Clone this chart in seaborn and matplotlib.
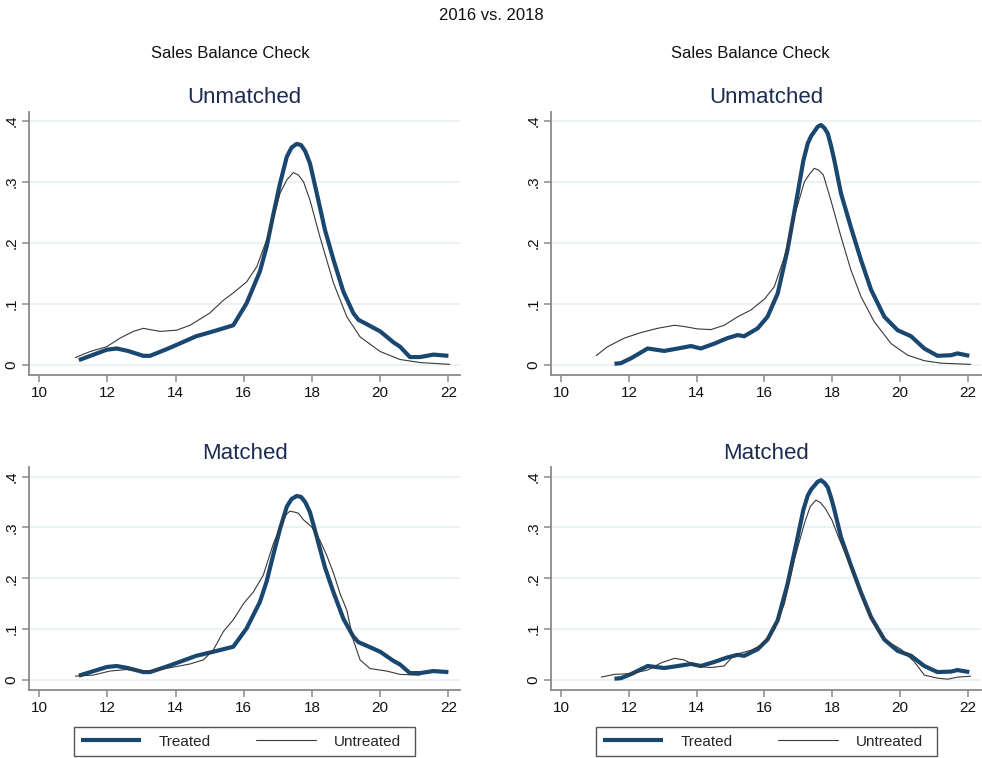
import matplotlib
matplotlib.use("Agg")
import matplotlib.pyplot as plt
from matplotlib.lines import Line2D
from matplotlib.patches import Rectangle
import seaborn as sns

# ---------------- data ----------------
treated16_x = [11.16, 11.5, 11.98, 12.27, 12.6, 13.05, 13.25, 13.74, 14.03, 14.6, 15.1, 15.69,
               16.08, 16.47, 16.67, 16.87, 17.06, 17.26, 17.4, 17.55, 17.68, 17.8, 17.94, 18.14,
               18.38, 18.63, 18.92, 19.21, 19.36, 19.6, 20.0, 20.39, 20.58, 20.87, 21.17, 21.56, 22.0]
treated16_y = [0.008, 0.015, 0.025, 0.027, 0.023, 0.015, 0.015, 0.026, 0.033, 0.047, 0.055, 0.065,
               0.101, 0.153, 0.194, 0.248, 0.297, 0.341, 0.356, 0.362, 0.360, 0.350, 0.330, 0.281,
               0.221, 0.172, 0.120, 0.085, 0.074, 0.067, 0.055, 0.037, 0.030, 0.013, 0.013, 0.017, 0.015]

untr16_unm_x = [11.05, 11.49, 11.98, 12.37, 12.76, 13.05, 13.54, 14.03, 14.42, 15.0, 15.4, 15.69,
                16.08, 16.38, 16.67, 16.96, 17.06, 17.26, 17.45, 17.6, 17.75, 17.94, 18.23, 18.63,
                19.02, 19.41, 20.0, 20.58, 21.17, 22.05]
untr16_unm_y = [0.012, 0.022, 0.030, 0.044, 0.055, 0.060, 0.055, 0.057, 0.065, 0.085, 0.106, 0.118,
                0.136, 0.161, 0.205, 0.259, 0.281, 0.303, 0.315, 0.311, 0.300, 0.270, 0.210, 0.134,
                0.079, 0.046, 0.022, 0.009, 0.004, 0.001]

untr16_m_x = [11.05, 11.58, 12.07, 12.56, 13.05, 13.54, 14.03, 14.42, 14.81, 15.1, 15.4, 15.69,
              15.99, 16.28, 16.57, 16.87, 17.16, 17.25, 17.35, 17.5, 17.6, 17.75, 17.99, 18.23,
              18.43, 18.63, 18.82, 19.02, 19.21, 19.41, 19.7, 20.19, 20.58, 21.17]
untr16_m_y = [0.007, 0.009, 0.017, 0.020, 0.016, 0.020, 0.026, 0.031, 0.039, 0.058, 0.095, 0.118,
              0.150, 0.173, 0.206, 0.269, 0.315, 0.326, 0.332, 0.330, 0.328, 0.315, 0.301, 0.275,
              0.245, 0.210, 0.170, 0.137, 0.078, 0.039, 0.022, 0.017, 0.0105, 0.009]

treated18_x = [11.57, 11.76, 12.06, 12.55, 13.04, 13.44, 13.83, 14.12, 14.52, 14.91, 15.21, 15.4,
               15.8, 16.09, 16.39, 16.68, 16.98, 17.15, 17.28, 17.38, 17.47, 17.57, 17.67, 17.77,
               17.87, 17.97, 18.06, 18.26, 18.55, 18.85, 19.15, 19.54, 19.93, 20.33, 20.72, 21.11,
               21.51, 21.7, 22.05]
treated18_y = [0.002, 0.003, 0.011, 0.027, 0.023, 0.027, 0.031, 0.027, 0.035, 0.044, 0.049, 0.047,
               0.060, 0.079, 0.117, 0.188, 0.281, 0.335, 0.363, 0.375, 0.382, 0.390, 0.393, 0.388,
               0.379, 0.358, 0.336, 0.281, 0.226, 0.172, 0.123, 0.079, 0.057, 0.047, 0.027, 0.015,
               0.016, 0.019, 0.015]

untr18_unm_x = [11.02, 11.37, 11.86, 12.35, 12.84, 13.34, 13.63, 14.03, 14.42, 14.81, 15.21, 15.6,
                16.0, 16.29, 16.59, 16.88, 17.18, 17.35, 17.47, 17.6, 17.74, 17.96, 18.26, 18.55,
                18.85, 19.24, 19.74, 20.23, 20.72, 21.21, 22.1]
untr18_unm_y = [0.015, 0.030, 0.044, 0.053, 0.060, 0.065, 0.063, 0.059, 0.058, 0.065, 0.079, 0.090,
                0.108, 0.128, 0.177, 0.243, 0.300, 0.314, 0.322, 0.319, 0.311, 0.270, 0.210, 0.156,
                0.112, 0.071, 0.035, 0.016, 0.007, 0.003, 0.001]

untr18_m_x = [11.17, 11.57, 12.06, 12.55, 12.94, 13.34, 13.63, 14.03, 14.42, 14.81, 15.11, 15.6,
              15.9, 16.29, 16.59, 16.88, 17.18, 17.35, 17.52, 17.65, 17.79, 17.99, 18.18, 18.43,
              18.72, 18.95, 19.34, 19.64, 20.03, 20.43, 20.72, 21.11, 21.41, 21.7, 22.1]
untr18_m_y = [0.005, 0.0105, 0.012, 0.019, 0.033, 0.042, 0.039, 0.026, 0.024, 0.027, 0.049, 0.058,
              0.068, 0.098, 0.150, 0.236, 0.308, 0.341, 0.354, 0.349, 0.338, 0.315, 0.282, 0.242,
              0.190, 0.150, 0.098, 0.075, 0.060, 0.035, 0.009, 0.003, 0.001, 0.005, 0.007]

x_ticks = [10, 12, 14, 16, 18, 20, 22]
y_ticks = [0, 0.1, 0.2, 0.3, 0.4]
y_tick_labels = ["0", ".1", ".2", ".3", ".4"]
series_labels = ["Treated", "Untreated"]
main_title = "2016 vs. 2018"
sub_title = "Sales Balance Check"
panel_titles = ["Unmatched", "Matched"]

# ---------------- style ----------------
sns.set_style("white")
plt.rcParams['font.family'] = ['Liberation Sans', 'DejaVu Sans']

W, H = 982, 758
fig = plt.figure(figsize=(W / 100, H / 100), dpi=100)
fig.patch.set_facecolor("white")

TREAT_C = "#1a476f"
UNTR_C = "#383838"
TITLE_C = "#1c2b50"
SPINE_C = "#8a8a8a"
GRID_C = "#e9f1f2"


def px_axes(l, r, t, b):
    return fig.add_axes([l / W, 1 - b / H, (r - l) / W, (b - t) / H])


panels = [
    (29.3, 460, 111.7, 375, (9.707, 22.34), (-0.0164, 0.4147), panel_titles[0],
     (treated16_x, treated16_y), (untr16_unm_x, untr16_unm_y)),
    (551.3, 981, 111.7, 375, (9.705, 22.395), (-0.0164, 0.4147), panel_titles[0],
     (treated18_x, treated18_y), (untr18_unm_x, untr18_unm_y)),
    (29.3, 460, 467.3, 690, (9.707, 22.34), (-0.0203, 0.4185), panel_titles[1],
     (treated16_x, treated16_y), (untr16_m_x, untr16_m_y)),
    (551.3, 981, 467.3, 690, (9.705, 22.395), (-0.0203, 0.4185), panel_titles[1],
     (treated18_x, treated18_y), (untr18_m_x, untr18_m_y)),
]

for (l, r, t, b, xl, yl, title, tr, un) in panels:
    ax = px_axes(l, r, t, b)
    ax.set_facecolor("white")
    for yv in y_ticks:
        ax.axhline(yv, color=GRID_C, lw=1.3, zorder=0)
    sns.lineplot(x=tr[0], y=tr[1], ax=ax, color=TREAT_C, linewidth=3.0,
                 sort=False, estimator=None, zorder=3)
    sns.lineplot(x=un[0], y=un[1], ax=ax, color=UNTR_C, linewidth=0.8,
                 sort=False, estimator=None, zorder=4)
    for ln in ax.lines:
        ln.set_solid_capstyle("butt")
        ln.set_solid_joinstyle("round")
    ax.set_xlim(*xl)
    ax.set_ylim(*yl)
    ax.set_xticks(x_ticks)
    ax.set_xticklabels([str(v) for v in x_ticks])
    ax.set_yticks(y_ticks)
    ax.set_yticklabels(y_tick_labels, rotation=90, va="center")
    ax.set_xlabel("")
    ax.set_ylabel("")
    for s in ["top", "right"]:
        ax.spines[s].set_visible(False)
    for s in ["left", "bottom"]:
        ax.spines[s].set_color(SPINE_C)
        ax.spines[s].set_linewidth(1.3)
    ax.tick_params(axis="both", which="major", direction="out", length=5, width=1.1,
                   color=SPINE_C, labelsize=11, labelcolor="#111111", pad=3,
                   left=True, bottom=True)
    ax.set_title(title, fontsize=16, color=TITLE_C, pad=6)

# titles
fig.text(491 / W, 1 - 15 / H, main_title, ha="center", va="center", fontsize=12, color="#111111")
fig.text(230 / W, 1 - 53 / H, sub_title, ha="center", va="center", fontsize=12, color="#111111")
fig.text(750 / W, 1 - 53 / H, sub_title, ha="center", va="center", fontsize=12, color="#111111")

# legends (one per column)
handles = [Line2D([], [], color=TREAT_C, lw=3.0, solid_capstyle="butt"),
           Line2D([], [], color=UNTR_C, lw=0.8)]
fs_px = 11 * 100 / 72
for (bl, br) in [(74, 415), (596, 937)]:
    bt, bb = 727, 756
    fig.patches.append(Rectangle((bl / W, 1 - bb / H), (br - bl) / W, (bb - bt) / H,
                                 transform=fig.transFigure, fill=False,
                                 edgecolor="#555555", lw=1.0))
    fig.legend(handles, series_labels, loc="center left",
               bbox_to_anchor=((bl + 7) / W, 1 - ((bt + bb) / 2) / H),
               ncol=2, frameon=False, fontsize=11, borderpad=0, borderaxespad=0,
               handlelength=60 / fs_px, handletextpad=18 / fs_px,
               columnspacing=45 / fs_px)

fig.savefig("out.png", dpi=100, facecolor="white")
